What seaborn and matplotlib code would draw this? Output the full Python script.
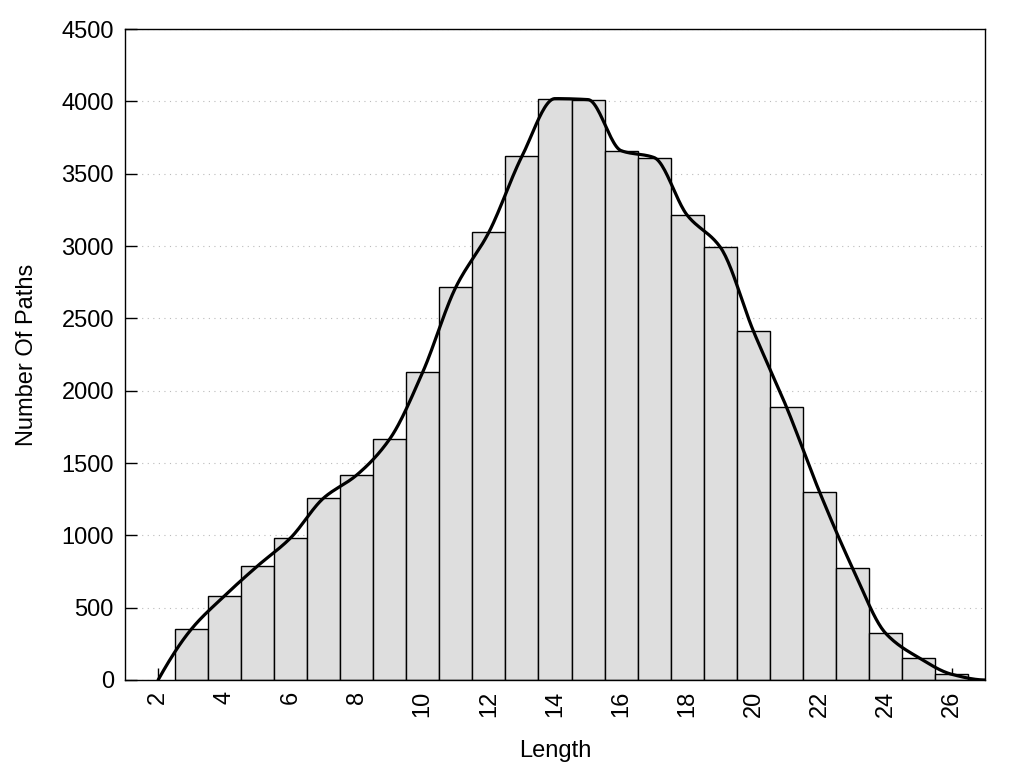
import numpy as np
import pandas as pd
import seaborn as sns
import matplotlib
matplotlib.use("Agg")
import matplotlib.pyplot as plt

# path length histogram
lengths = [3, 4, 5, 6, 7, 8, 9, 10, 11, 12, 13, 14, 15,
           16, 17, 18, 19, 20, 21, 22, 23, 24, 25, 26]
counts = [350, 580, 787, 981, 1257, 1416, 1665, 2128, 2715, 3095, 3620, 4019, 4012,
          3659, 3611, 3212, 2991, 2411, 1886, 1299, 772, 322, 154, 39]

# the smooth curve is anchored at zero on both ends
curve_x = [2] + lengths + [27]
curve_y = [0] + counts + [0]

x_ticks = list(range(2, 27, 2))
y_ticks = list(range(0, 4501, 500))


def pchip_slopes(x, y):
    h = np.diff(x)
    d = np.diff(y) / h
    m = np.zeros(len(x))
    for k in range(1, len(x) - 1):
        if d[k - 1] * d[k] > 0:
            w1 = 2 * h[k] + h[k - 1]
            w2 = h[k] + 2 * h[k - 1]
            m[k] = (w1 + w2) / (w1 / d[k - 1] + w2 / d[k])

    def end(h0, h1, d0, d1):
        s = ((2 * h0 + h1) * d0 - h0 * d1) / (h0 + h1)
        if np.sign(s) != np.sign(d0):
            s = 0.0
        elif np.sign(d0) != np.sign(d1) and abs(s) > 3 * abs(d0):
            s = 3 * d0
        return s

    m[0] = end(h[0], h[1], d[0], d[1])
    m[-1] = end(h[-1], h[-2], d[-1], d[-2])
    return m


def pchip(x, y, xs):
    x = np.asarray(x, float)
    y = np.asarray(y, float)
    m = pchip_slopes(x, y)
    idx = np.clip(np.searchsorted(x, xs) - 1, 0, len(x) - 2)
    h = x[idx + 1] - x[idx]
    t = (xs - x[idx]) / h
    h00 = 2 * t**3 - 3 * t**2 + 1
    h10 = t**3 - 2 * t**2 + t
    h01 = -2 * t**3 + 3 * t**2
    h11 = t**3 - t**2
    return h00 * y[idx] + h10 * h * m[idx] + h01 * y[idx + 1] + h11 * h * m[idx + 1]


df = pd.DataFrame({"Length": lengths, "Paths": counts})
xs = np.linspace(curve_x[0], curve_x[-1], 600)
smooth = pd.DataFrame({"x": xs, "y": pchip(curve_x, curve_y, xs)})

sns.set_style("white")
plt.rcParams["font.family"] = ["Liberation Sans", "DejaVu Sans"]
plt.rcParams["text.color"] = "black"
plt.rcParams["axes.labelcolor"] = "black"

fig = plt.figure(figsize=(10.24, 7.68), dpi=100)
ax = fig.add_axes([0.1221, 0.1146, 0.8398, 0.8476])

sns.histplot(data=df, x="Length", weights="Paths", discrete=True,
             color="#dedede", edgecolor="black", linewidth=1.0, alpha=1, ax=ax)
sns.lineplot(data=smooth, x="x", y="y", color="black", linewidth=2.3, ax=ax)

ax.set_xlim(1, 27)
ax.set_ylim(0, 4500)
ax.set_xticks(x_ticks)
ax.set_yticks(y_ticks)
ax.set_axisbelow(True)
ax.yaxis.grid(True, linestyle=(0, (1, 4)), color="#bbbbbb", linewidth=0.8)
ax.xaxis.grid(False)

ax.tick_params(axis="both", direction="in", length=8.5, width=1.0,
               bottom=True, left=True, top=False, right=False,
               colors="black", labelcolor="black", labelsize=17, pad=8)
ax.tick_params(axis="x", labelrotation=90)
for s in ax.spines.values():
    s.set_color("black")
    s.set_linewidth(1.0)

ax.set_xlabel("Length", fontsize=17, labelpad=16, color="black")
ax.set_ylabel("Number Of Paths", fontsize=17, labelpad=17, color="black")

fig.savefig("out.png", dpi=100)
